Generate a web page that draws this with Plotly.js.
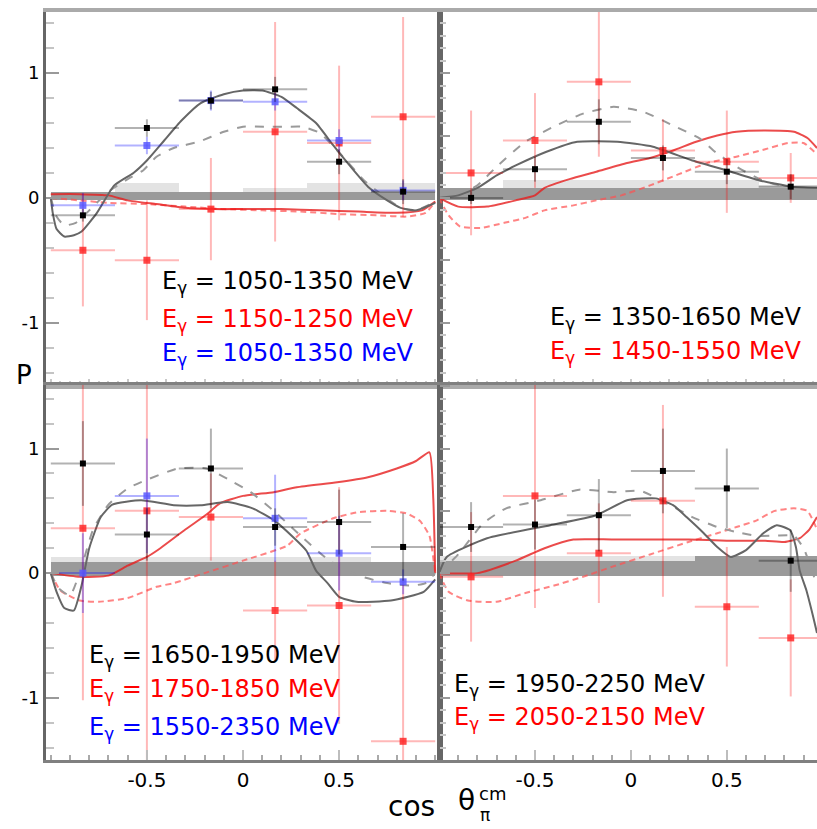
<!DOCTYPE html>
<html><head><meta charset="utf-8">
<script src="https://cdn.plot.ly/plotly-3.0.1.min.js"></script>
<style>html,body{margin:0;padding:0;background:#fff}#chart{width:817px;height:829px}</style>
</head><body><div id="chart"></div>
<script>
// ---------------- data ----------------
const xBins = [-0.833, -0.5, -0.167, 0.167, 0.5, 0.833];
const xBinHalf = [0.167, 0.167, 0.167, 0.167, 0.167, 0.167];
const sysBase = -0.02;

// top-left: E = 1050-1350 (black), 1150-1250 (red), 1050-1350 (blue)
const tlBlackP = [-0.14, 0.56, 0.78, 0.87, 0.29, 0.05];
const tlBlackErr = [0.05, 0.07, 0.07, 0.1, 0.1, 0.1];
const tlRedP = [-0.42, -0.5, -0.09, 0.53, 0.44, 0.65];
const tlRedErr = [0.45, 0.48, 0.41, 0.88, 0.62, 0.8];
const tlBlueP = [-0.06, 0.42, 0.78, 0.77, 0.46, 0.06];
const tlBlueErr = [0.1, 0.07, 0.08, 0.07, 0.09, 0.08];
const tlSysDark = [0.05, 0.05, 0.05, 0.05, 0.05, 0.05];
const tlSysLight = [0.05, 0.12, 0.05, 0.08, 0.12, 0.12];
const tlSolidX = [-1.0, -0.99, -0.97, -0.93, -0.88, -0.84, -0.76, -0.67, -0.57, -0.5, -0.41, -0.32, -0.22, -0.1, 0.0, 0.1, 0.2, 0.28, 0.38, 0.47, 0.56, 0.65, 0.74, 0.82, 0.9, 1.0];
const tlSolidY = [0.0, -0.12, -0.25, -0.31, -0.3, -0.27, -0.12, 0.1, 0.2, 0.3, 0.46, 0.62, 0.76, 0.83, 0.86, 0.86, 0.81, 0.72, 0.6, 0.42, 0.25, 0.09, -0.01, -0.08, -0.1, -0.04];
const tlDashX = [-1.0, -0.97, -0.93, -0.87, -0.8, -0.7, -0.6, -0.52, -0.45, -0.36, -0.23, -0.1, 0.0, 0.12, 0.22, 0.31, 0.4, 0.52, 0.63, 0.71, 0.82, 0.9, 1.0];
const tlDashY = [0.0, -0.15, -0.22, -0.2, -0.1, 0.05, 0.15, 0.22, 0.33, 0.4, 0.45, 0.53, 0.57, 0.57, 0.57, 0.57, 0.52, 0.33, 0.14, 0.04, -0.08, -0.1, -0.03];
const tlRedSolidX = [-1.0, -0.85, -0.7, -0.6, -0.45, -0.3, -0.15, 0.0, 0.2, 0.4, 0.6, 0.8, 0.93, 1.0];
const tlRedSolidY = [0.03, 0.03, 0.02, -0.02, -0.05, -0.08, -0.09, -0.09, -0.09, -0.1, -0.11, -0.12, -0.1, -0.03];
const tlRedDashX = [-1.0, -0.85, -0.7, -0.5, -0.3, -0.1, 0.1, 0.3, 0.5, 0.7, 0.85, 0.95, 1.0];
const tlRedDashY = [0.0, -0.02, -0.04, -0.05, -0.07, -0.09, -0.1, -0.11, -0.13, -0.14, -0.15, -0.12, -0.03];

// top-right: E = 1350-1650 (black), 1450-1550 (red)
const trBlackP = [0.0, 0.23, 0.61, 0.32, 0.21, 0.09];
const trBlackErr = [0.05, 0.1, 0.18, 0.1, 0.1, 0.1];
const trRedP = [0.2, 0.46, 0.93, 0.38, 0.29, 0.16];
const trRedErr = [0.5, 0.38, 0.6, 0.25, 0.41, 0.2];
const trSysDark = [0.08, 0.08, 0.08, 0.08, 0.08, 0.08];
const trSysLight = [0.08, 0.14, 0.14, 0.14, 0.14, 0.1];
const trSolidX = [-1.0, -0.9, -0.8, -0.7, -0.6, -0.44, -0.28, -0.07, 0.115, 0.32, 0.5, 0.67, 0.84, 0.97];
const trSolidY = [0.0, 0.02, 0.08, 0.18, 0.26, 0.37, 0.45, 0.45, 0.41, 0.3, 0.22, 0.14, 0.09, 0.08];
const trDashX = [-1.0, -0.9, -0.8, -0.7, -0.55, -0.39, -0.25, -0.09, 0.065, 0.22, 0.36, 0.43, 0.55, 0.7, 0.85, 0.97];
const trDashY = [0.0, 0.02, 0.1, 0.25, 0.45, 0.58, 0.675, 0.73, 0.69, 0.58, 0.475, 0.38, 0.25, 0.13, 0.08, 0.06];
const trRedSolidX = [-1.0, -0.9, -0.75, -0.6, -0.5, -0.45, -0.32, -0.18, -0.02, 0.1, 0.22, 0.34, 0.45, 0.55, 0.7, 0.85, 0.92, 0.97];
const trRedSolidY = [0.0, -0.07, -0.07, -0.02, 0.02, 0.08, 0.15, 0.21, 0.28, 0.32, 0.38, 0.45, 0.5, 0.53, 0.54, 0.53, 0.48, 0.4];
const trRedDashX = [-1.0, -0.95, -0.89, -0.78, -0.66, -0.55, -0.45, -0.3, -0.18, -0.05, 0.1, 0.25, 0.4, 0.55, 0.7, 0.82, 0.9, 0.97];
const trRedDashY = [0.0, -0.14, -0.23, -0.24, -0.2, -0.16, -0.1, -0.06, -0.02, 0.02, 0.1, 0.19, 0.28, 0.33, 0.39, 0.44, 0.44, 0.35];

// bottom-left: E = 1650-1950 (black), 1750-1850 (red), 1550-2350 (blue)
const blBlackP = [0.88, 0.31, 0.84, 0.37, 0.41, 0.21];
const blBlackErr = [0.34, 0.21, 0.32, 0.15, 0.26, 0.27];
const blRedP = [0.36, 0.5, 0.45, -0.3, -0.26, -1.35];
const blRedErr = [1.38, 2.1, 0.35, 0.4, 0.95, 1.3];
const blBlueP = [0.0, 0.62, null, 0.44, 0.16, -0.07];
const blBlueErr = [0.32, 0.46, null, 0.35, 0.3, 0.1];
const blSysDark = [0.09, 0.09, 0.09, 0.09, 0.09, 0.09];
const blSysLight = [0.13, 0.13, 0.13, 0.13, 0.13, 0.09];
const blSolidX = [-1.0, -0.97, -0.93, -0.88, -0.84, -0.8, -0.74, -0.68, -0.53, -0.36, -0.22, -0.08, 0.05, 0.16, 0.26, 0.33, 0.38, 0.44, 0.5, 0.59, 0.77, 0.94, 1.0];
const blSolidY = [0.0, -0.15, -0.28, -0.3, -0.1, 0.2, 0.45, 0.55, 0.585, 0.545, 0.545, 0.57, 0.52, 0.425, 0.29, 0.18, 0.02, -0.08, -0.19, -0.23, -0.22, -0.15, -0.05];
const blDashX = [-1.0, -0.96, -0.9, -0.84, -0.78, -0.7, -0.6, -0.53, -0.34, -0.19, -0.05, 0.04, 0.16, 0.3, 0.45, 0.6, 0.75, 0.88, 0.95, 1.0];
const blDashY = [0.0, -0.12, -0.18, 0.05, 0.35, 0.55, 0.68, 0.73, 0.84, 0.84, 0.73, 0.65, 0.5, 0.3, 0.1, -0.02, -0.08, -0.1, -0.08, 0.0];
const blRedSolidX = [-1.0, -0.85, -0.7, -0.6, -0.5, -0.43, -0.3, -0.19, -0.12, 0.0, 0.16, 0.28, 0.49, 0.65, 0.8, 0.9, 0.97, 0.99, 1.0];
const blRedSolidY = [0.0, -0.03, -0.02, 0.06, 0.13, 0.2, 0.35, 0.47, 0.56, 0.62, 0.65, 0.69, 0.73, 0.77, 0.84, 0.9, 0.97, 0.6, 0.0];
const blRedDashX = [-1.0, -0.95, -0.85, -0.75, -0.6, -0.45, -0.36, -0.2, 0.0, 0.23, 0.3, 0.47, 0.6, 0.75, 0.85, 0.92, 0.97, 1.0];
const blRedDashY = [0.0, -0.14, -0.22, -0.23, -0.2, -0.11, -0.08, 0.0, 0.1, 0.22, 0.32, 0.44, 0.49, 0.5, 0.48, 0.42, 0.3, 0.0];

// bottom-right: E = 1950-2250 (black), 2050-2150 (red)
const brBlackP = [0.37, 0.39, 0.465, 0.82, 0.68, 0.1];
const brBlackErr = [0.2, 0.2, 0.29, 0.34, 0.32, 0.25];
const brRedP = [-0.03, 0.62, 0.16, 0.58, -0.27, -0.52];
const brRedErr = [0.52, 0.9, 0.4, 0.77, 0.48, 0.47];
const brSysDark = [0.1, 0.1, 0.1, 0.1, 0.14, 0.14];
const brSysLight = [0.14, 0.14, 0.14, 0.14, 0.14, 0.14];
const brSolidX = [-1.0, -0.96, -0.75, -0.42, -0.18, -0.02, 0.13, 0.22, 0.29, 0.38, 0.45, 0.52, 0.6, 0.69, 0.76, 0.83, 0.86, 0.88, 0.915, 0.95, 0.97];
const brSolidY = [0.0, 0.13, 0.28, 0.385, 0.465, 0.585, 0.6, 0.545, 0.45, 0.32, 0.21, 0.13, 0.185, 0.32, 0.385, 0.345, 0.21, 0.02, -0.14, -0.35, -0.48];
const brDashX = [-1.0, -0.9, -0.77, -0.65, -0.47, -0.27, -0.09, 0.05, 0.2, 0.32, 0.45, 0.55, 0.65, 0.75, 0.85, 0.9, 0.97];
const brDashY = [0.0, 0.15, 0.4, 0.52, 0.585, 0.67, 0.65, 0.66, 0.55, 0.45, 0.37, 0.33, 0.3, 0.3, 0.3, 0.2, -0.1];
const brRedSolidX = [-1.0, -0.8, -0.6, -0.45, -0.3, -0.1, 0.1, 0.3, 0.5, 0.7, 0.8, 0.88, 0.93, 0.97];
const brRedSolidY = [0.0, 0.0, 0.1, 0.2, 0.27, 0.27, 0.27, 0.27, 0.26, 0.26, 0.25, 0.28, 0.35, 0.45];
const brRedDashX = [-1.0, -0.95, -0.85, -0.7, -0.55, -0.4, -0.25, -0.1, 0.1, 0.3, 0.45, 0.55, 0.65, 0.75, 0.85, 0.92, 0.97];
const brRedDashY = [0.0, -0.15, -0.22, -0.23, -0.16, -0.1, -0.03, 0.05, 0.15, 0.25, 0.32, 0.37, 0.42, 0.5, 0.52, 0.5, 0.35];

// labels
const tlLabels = ['E<sub>γ</sub> = 1050-1350 MeV', 'E<sub>γ</sub> = 1150-1250 MeV', 'E<sub>γ</sub> = 1050-1350 MeV'];
const trLabels = ['E<sub>γ</sub> = 1350-1650 MeV', 'E<sub>γ</sub> = 1450-1550 MeV'];
const blLabels = ['E<sub>γ</sub> = 1650-1950 MeV', 'E<sub>γ</sub> = 1750-1850 MeV', 'E<sub>γ</sub> = 1550-2350 MeV'];
const brLabels = ['E<sub>γ</sub> = 1950-2250 MeV', 'E<sub>γ</sub> = 2050-2150 MeV'];
const xTickVals = [-0.5, 0, 0.5];
const xTickText = ['-0.5', '0', '0.5'];
const yTickVals = [-1, 0, 1];
const yTickText = ['-1', '0', '1'];

// ---------------- build ----------------
const FONT = 'DejaVu Sans, Liberation Sans, sans-serif';
const BLACK_ERR = 'rgba(0,0,0,0.3)';
const RED_ERR = 'rgba(255,0,0,0.28)';
const BLUE_ERR = 'rgba(0,0,255,0.3)';
const traces = [];

function band(xa, ya, light, dark) {
  traces.push({type: 'bar', x: xBins, y: light.map(v => v - sysBase), base: sysBase, width: 1/3,
    marker: {color: '#e3e3e3', line: {width: 0}}, xaxis: xa, yaxis: ya, hoverinfo: 'skip'});
  traces.push({type: 'bar', x: xBins, y: dark.map(v => v - sysBase), base: sysBase, width: 1/3,
    marker: {color: '#9a9a9a', line: {width: 0}}, xaxis: xa, yaxis: ya, hoverinfo: 'skip'});
}
function curve(xa, ya, x, y, color, dash) {
  traces.push({type: 'scatter', mode: 'lines', x: x, y: y, xaxis: xa, yaxis: ya,
    line: {color: color, width: 2, dash: dash, shape: 'spline', smoothing: 0.5}, hoverinfo: 'skip'});
}
function points(xa, ya, y, err, mcolor, ecolor, size) {
  traces.push({type: 'scatter', mode: 'markers', x: xBins, y: y, xaxis: xa, yaxis: ya,
    marker: {symbol: 'square', size: size, color: mcolor, line: {width: 0}},
    error_y: {type: 'data', array: err, visible: true, color: ecolor, thickness: 2, width: 0},
    error_x: {type: 'data', array: xBinHalf, visible: true, color: ecolor, thickness: 2, width: 0},
    hoverinfo: 'skip'});
}

const RED_DASH = '6px,4px';
// TL
band('x', 'y', tlSysLight, tlSysDark);
curve('x', 'y', tlRedDashX, tlRedDashY, 'rgba(255,80,80,0.7)', RED_DASH);
curve('x', 'y', tlRedSolidX, tlRedSolidY, 'rgba(230,30,30,0.8)', 'solid');
curve('x', 'y', tlDashX, tlDashY, '#9a9a9a', 'dash');
curve('x', 'y', tlSolidX, tlSolidY, '#666', 'solid');
points('x', 'y', tlRedP, tlRedErr, 'rgba(255,40,40,0.85)', RED_ERR, 7);
points('x', 'y', tlBlueP, tlBlueErr, 'rgba(90,90,255,0.85)', BLUE_ERR, 7);
points('x', 'y', tlBlackP, tlBlackErr, '#000', BLACK_ERR, 6);
// TR
band('x2', 'y2', trSysLight, trSysDark);
curve('x2', 'y2', trRedDashX, trRedDashY, 'rgba(255,80,80,0.7)', RED_DASH);
curve('x2', 'y2', trRedSolidX, trRedSolidY, 'rgba(230,30,30,0.8)', 'solid');
curve('x2', 'y2', trDashX, trDashY, '#9a9a9a', 'dash');
curve('x2', 'y2', trSolidX, trSolidY, '#666', 'solid');
points('x2', 'y2', trRedP, trRedErr, 'rgba(255,40,40,0.85)', RED_ERR, 7);
points('x2', 'y2', trBlackP, trBlackErr, '#000', BLACK_ERR, 6);
// BL
band('x3', 'y3', blSysLight, blSysDark);
curve('x3', 'y3', blRedDashX, blRedDashY, 'rgba(255,80,80,0.7)', RED_DASH);
curve('x3', 'y3', blRedSolidX, blRedSolidY, 'rgba(230,30,30,0.8)', 'solid');
curve('x3', 'y3', blDashX, blDashY, '#9a9a9a', 'dash');
curve('x3', 'y3', blSolidX, blSolidY, '#666', 'solid');
points('x3', 'y3', blRedP, blRedErr, 'rgba(255,40,40,0.85)', RED_ERR, 7);
points('x3', 'y3', blBlueP, blBlueErr, 'rgba(90,90,255,0.85)', BLUE_ERR, 7);
points('x3', 'y3', blBlackP, blBlackErr, '#000', BLACK_ERR, 6);
// BR
band('x4', 'y4', brSysLight, brSysDark);
curve('x4', 'y4', brRedDashX, brRedDashY, 'rgba(255,80,80,0.7)', RED_DASH);
curve('x4', 'y4', brRedSolidX, brRedSolidY, 'rgba(230,30,30,0.8)', 'solid');
curve('x4', 'y4', brDashX, brDashY, '#9a9a9a', 'dash');
curve('x4', 'y4', brSolidX, brSolidY, '#666', 'solid');
points('x4', 'y4', brRedP, brRedErr, 'rgba(255,40,40,0.85)', RED_ERR, 7);
points('x4', 'y4', brBlackP, brBlackErr, '#000', BLACK_ERR, 6);

const W = 817, H = 829;
const xL = [46 / W, 440 / W], xR = [440 / W, 1];
const yT = [1 - 385 / H, 1 - 12 / H], yB = [1 - 760 / H, 1 - 385 / H];
const rangeL = [-1.025, 1.025], rangeR = [-0.995, 0.97];

function xTop(domain, range, anchor) {
  return {domain: domain, range: range, anchor: anchor, showline: true, linecolor: '#aaaaaa', linewidth: 4, mirror: true,
    tickmode: 'linear', tick0: 0, dtick: 0.2, ticks: 'inside', ticklen: 6, tickwidth: 2, tickcolor: '#c8c8c8',
    minor: {ticks: 'inside', tickmode: 'linear', tick0: 0, dtick: 0.05, ticklen: 4, tickwidth: 2, tickcolor: '#cfcfcf', showgrid: false},
    showticklabels: false, showgrid: false, zeroline: false, fixedrange: true, automargin: false};
}
function xBot(domain, range, anchor) {
  return {domain: domain, range: range, anchor: anchor, showline: true, linecolor: '#808080', linewidth: 3, mirror: true,
    tickmode: 'array', tickvals: xTickVals, ticktext: xTickText, ticks: 'inside', ticklen: 10, tickwidth: 2, tickcolor: '#bdbdbd',
    minor: {ticks: 'inside', tickmode: 'linear', tick0: 0, dtick: 0.1, ticklen: 5, tickwidth: 2, tickcolor: '#aaaaaa', showgrid: false},
    showticklabels: true, tickfont: {family: FONT, size: 20, color: '#000'},
    showgrid: false, zeroline: false, fixedrange: true, automargin: false};
}
function yLeft(domain, anchor) {
  return {domain: domain, range: domain === yT ? [-1.5, 1.49] : [-1.5, 1.51], anchor: anchor, showline: true, linecolor: '#666666', linewidth: 3, mirror: true,
    tickmode: 'array', tickvals: yTickVals, ticktext: yTickText, ticks: 'inside', ticklen: 13, tickwidth: 2, tickcolor: '#999999',
    minor: {ticks: 'inside', tickmode: 'linear', tick0: 0, dtick: 0.2, ticklen: 8, tickwidth: 2, tickcolor: '#c4c4c4', showgrid: false},
    showticklabels: true, tickfont: {family: FONT, size: 18, color: '#000'},
    showgrid: false, zeroline: false, fixedrange: true, automargin: false};
}
function yRight(domain, anchor) {
  return {domain: domain, range: domain === yT ? [-1.5, 1.49] : [-1.5, 1.51], anchor: anchor, showline: true, linecolor: '#666666', linewidth: 3, mirror: false,
    tickmode: 'linear', tick0: 0, dtick: 0.5, ticks: 'inside', ticklen: 10, tickwidth: 2, tickcolor: '#999999',
    minor: {ticks: 'inside', tickmode: 'linear', tick0: 0, dtick: 0.1, ticklen: 6, tickwidth: 2, tickcolor: '#c4c4c4', showgrid: false},
    showticklabels: false, showgrid: false, zeroline: false, fixedrange: true, automargin: false};
}

function lab(xref, yref, x, y, text, color) {
  return {xref: xref, yref: yref, x: x, y: y, text: text, showarrow: false, xanchor: 'left', yanchor: 'middle',
    font: {family: FONT, size: 24, color: color}};
}
const annotations = [
  lab('x', 'y', -0.43, -0.68, tlLabels[0], '#000'),
  lab('x', 'y', -0.43, -0.98, tlLabels[1], '#ff0000'),
  lab('x', 'y', -0.43, -1.255, tlLabels[2], '#0000ff'),
  lab('x2', 'y2', -0.43, -0.965, trLabels[0], '#000'),
  lab('x2', 'y2', -0.43, -1.24, trLabels[1], '#ff0000'),
  lab('x3', 'y3', -0.81, -0.67, blLabels[0], '#000'),
  lab('x3', 'y3', -0.81, -0.94, blLabels[1], '#ff0000'),
  lab('x3', 'y3', -0.81, -1.245, blLabels[2], '#0000ff'),
  lab('x4', 'y4', -0.93, -0.9, brLabels[0], '#000'),
  lab('x4', 'y4', -0.93, -1.165, brLabels[1], '#ff0000'),
  {xref: 'paper', yref: 'paper', x: 24 / W, y: 1 - 375 / H, text: 'P', showarrow: false, xanchor: 'center', yanchor: 'middle',
    font: {family: FONT, size: 26, color: '#000'}},
  {xref: 'paper', yref: 'paper', x: 437 / W, y: 1 - 806 / H, text: 'cos', showarrow: false, xanchor: 'right', yanchor: 'middle',
    font: {family: FONT, size: 28, color: '#000'}},
  {xref: 'paper', yref: 'paper', x: 466 / W, y: 1 - 800 / H, text: 'θ', showarrow: false, xanchor: 'center', yanchor: 'middle',
    font: {family: FONT, size: 28, color: '#000'}},
  {xref: 'paper', yref: 'paper', x: 477 / W, y: 1 - 793 / H, text: 'cm', showarrow: false, xanchor: 'left', yanchor: 'middle',
    font: {family: FONT, size: 18, color: '#000'}},
  {xref: 'paper', yref: 'paper', x: 478 / W, y: 1 - 815 / H, text: 'π', showarrow: false, xanchor: 'left', yanchor: 'middle',
    font: {family: FONT, size: 17, color: '#000'}}
];

const layout = {
  width: W, height: H, margin: {l: 0, r: 0, t: 0, b: 0}, paper_bgcolor: '#fff', plot_bgcolor: 'rgba(0,0,0,0)',
  showlegend: false, barmode: 'overlay', bargap: 0,
  xaxis: xTop(xL, rangeL, 'y'), yaxis: yLeft(yT, 'x'),
  xaxis2: xTop(xR, rangeR, 'y2'), yaxis2: yRight(yT, 'x2'),
  xaxis3: xBot(xL, rangeL, 'y3'), yaxis3: yLeft(yB, 'x3'),
  xaxis4: xBot(xR, rangeR, 'y4'), yaxis4: yRight(yB, 'x4'),
  annotations: annotations
};
Plotly.newPlot('chart', traces, layout, {staticPlot: true, displayModeBar: false});
</script>
</body></html>
